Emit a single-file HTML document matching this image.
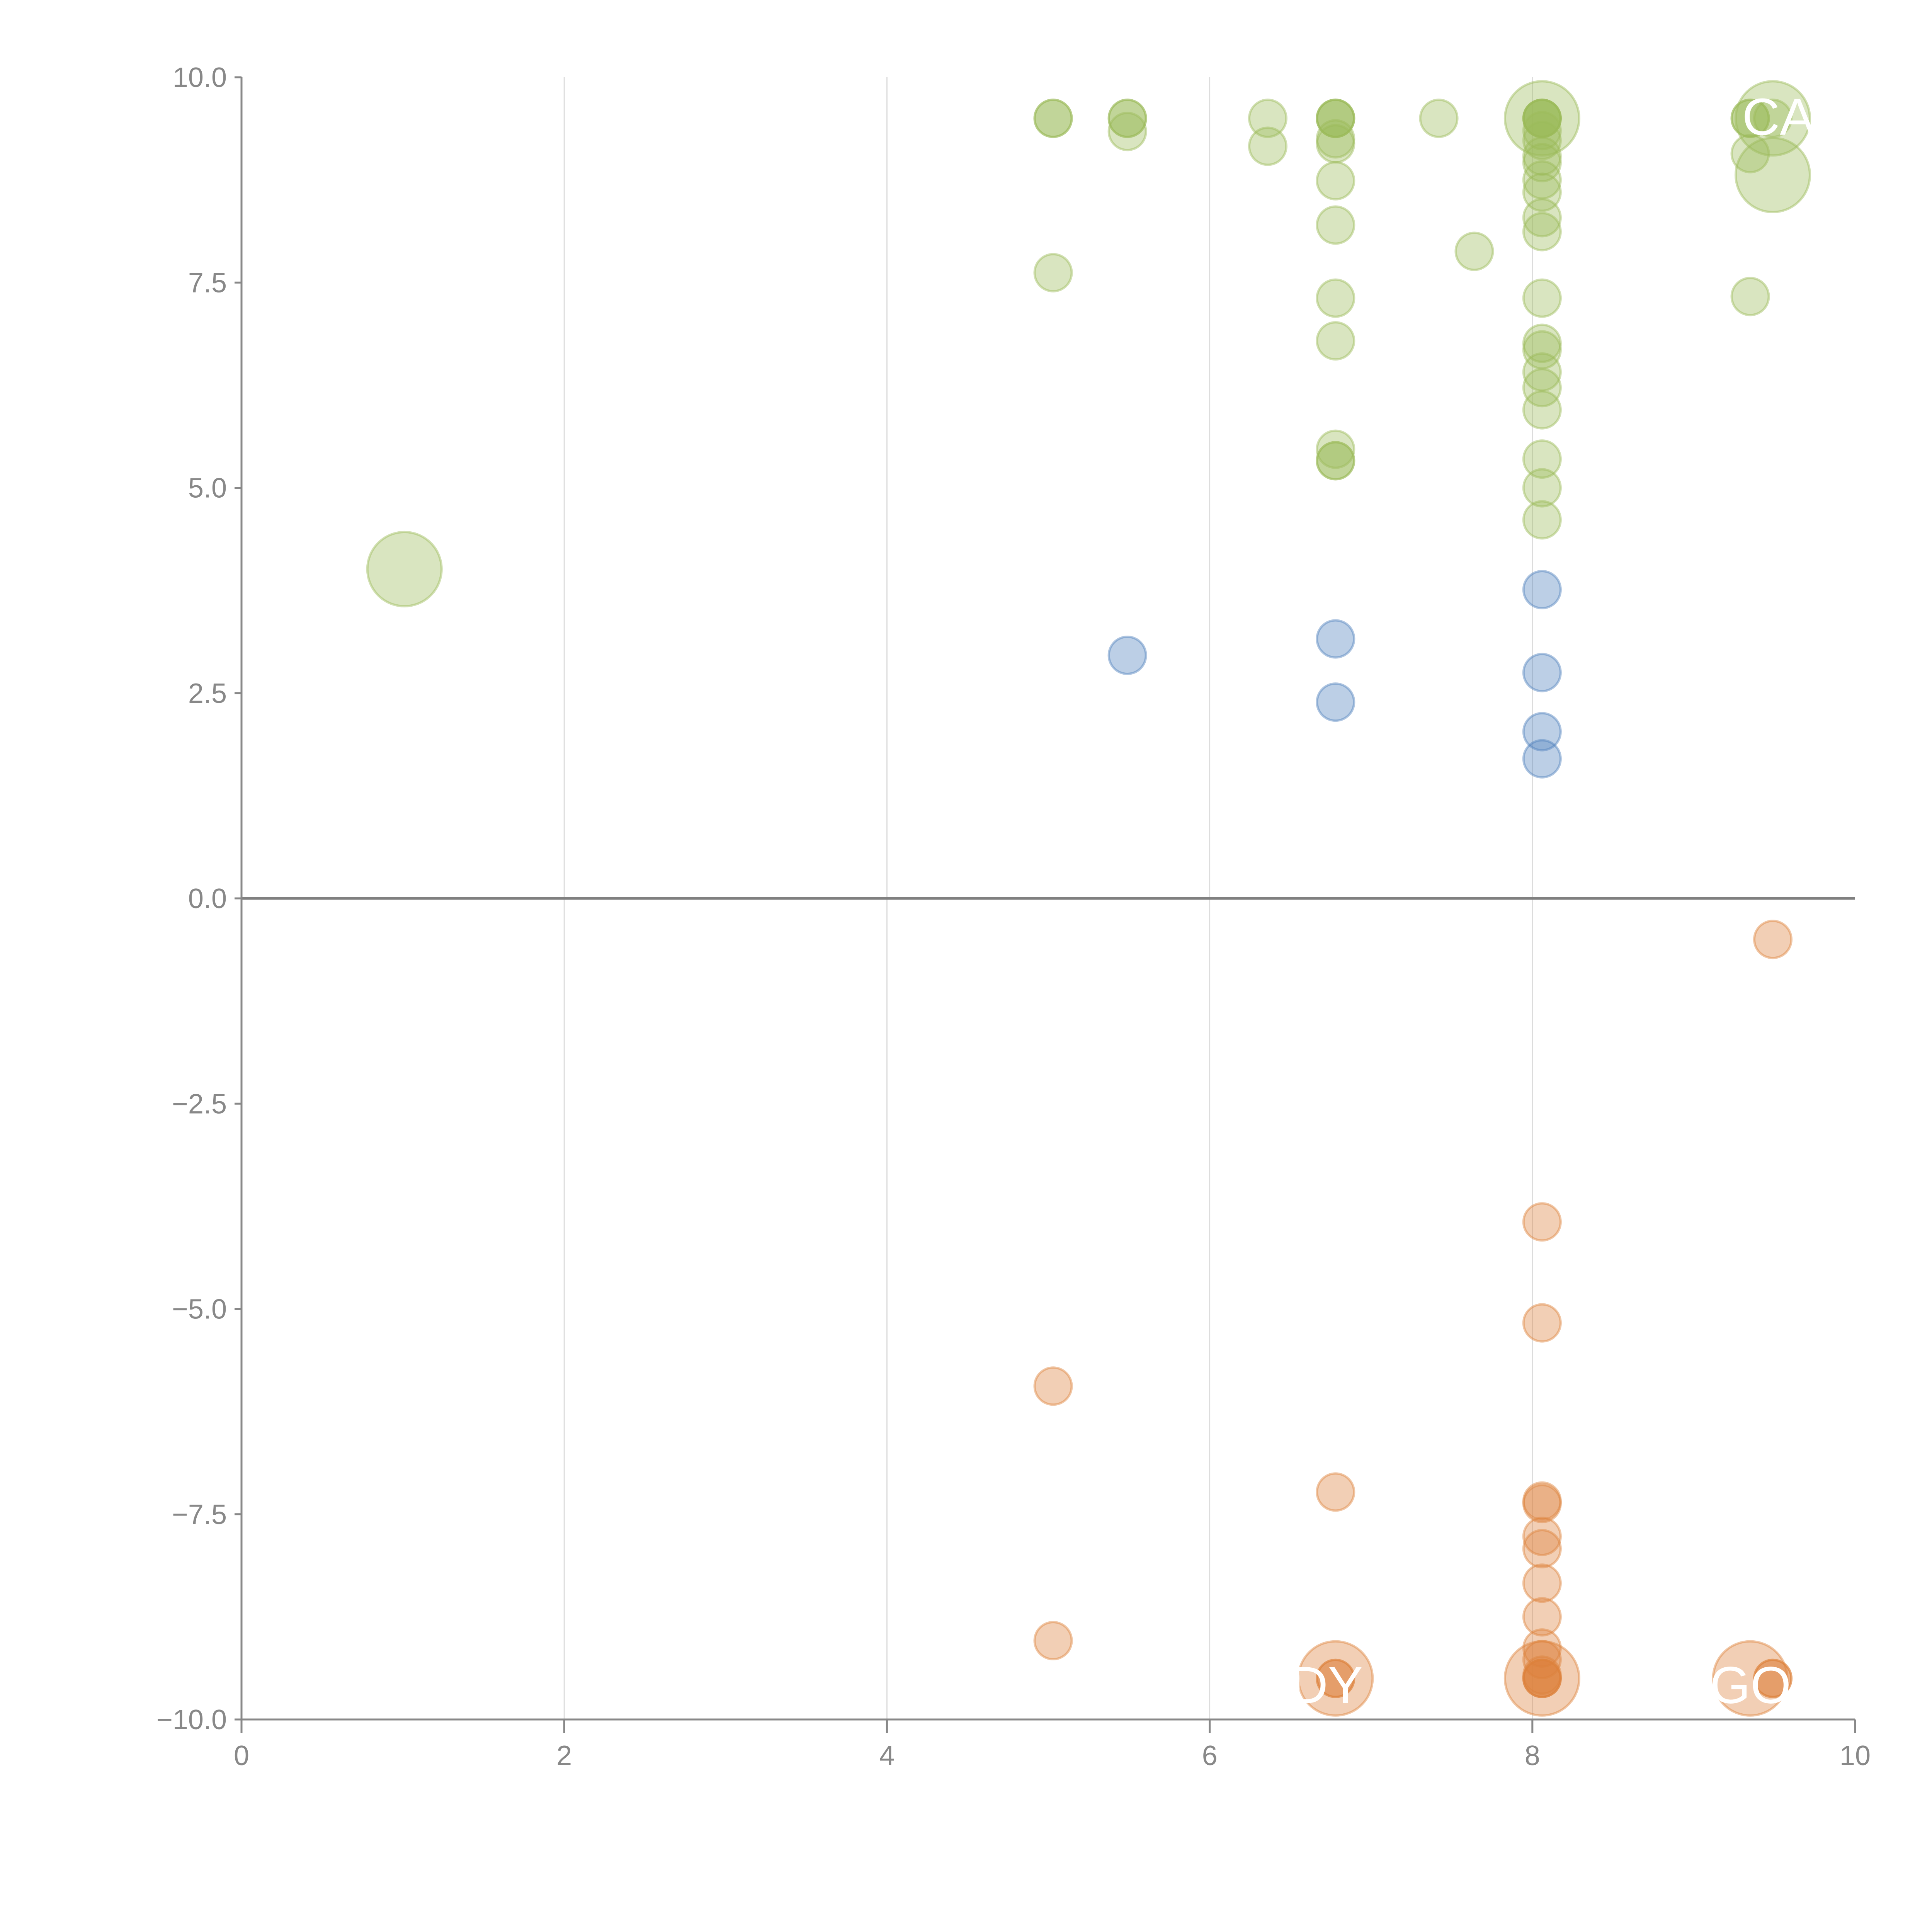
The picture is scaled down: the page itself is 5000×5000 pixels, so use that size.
<!DOCTYPE html>
<html><head><meta charset="utf-8"><style>html,body{margin:0;padding:0;background:#fff}svg{display:block}</style></head>
<body>
<svg id="chart" width="5000" height="5000" viewBox="0 0 5000 5000" xmlns="http://www.w3.org/2000/svg" font-family="'Liberation Sans', sans-serif">
<defs><clipPath id="plotclip"><rect x="625" y="200" width="4176" height="4250"/></clipPath></defs>
<g id="grid"></g>
<g id="axes"></g>
<g id="marks" clip-path="url(#plotclip)"></g>
<g id="labels" clip-path="url(#plotclip)"></g>
</svg>
<script>
const xTicks=[0,2,4,6,8,10];
const yTicks=[10,7.5,5,2.5,0,-2.5,-5,-7.5,-10];
const yTickLabels=["10.0","7.5","5.0","2.5","0.0","\u22122.5","\u22125.0","\u22127.5","\u221210.0"];
const greenX=[5.03,5.03,5.03,5.49,5.49,5.49,6.36,6.36,6.78,6.78,6.78,6.78,6.78,6.78,6.78,6.78,6.78,6.78,6.78,6.78,7.42,7.64,8.06,8.06,8.06,8.06,8.06,8.06,8.06,8.06,8.06,8.06,8.06,8.06,8.06,8.06,8.06,8.06,8.06,8.06,8.06,8.06,8.06,8.06,9.35,9.35,9.35,9.35,9.49,1.01,9.49,9.49];
const greenY=[9.5,9.5,7.62,9.5,9.5,9.34,9.5,9.16,9.5,9.5,9.5,9.25,9.19,8.74,8.2,7.31,6.79,5.47,5.33,5.33,9.5,7.88,9.5,9.5,9.5,9.35,9.23,9.04,8.96,8.75,8.6,8.29,8.12,7.31,6.76,6.68,6.41,6.22,5.95,5.35,5.0,4.61,9.5,9.5,9.5,9.5,9.07,7.33,9.5,4.01,8.81,9.5];
const greenS=[1,1,1,1,1,1,1,1,1,1,1,1,1,1,1,1,1,1,1,1,1,1,1,1,1,1,1,1,1,1,1,1,1,1,1,1,1,1,1,1,1,1,1,2,1,1,1,1,1,2,2,2];
const blueX=[5.49,6.78,6.78,8.06,8.06,8.06,8.06];
const blueY=[2.96,3.16,2.39,3.76,2.75,2.03,1.70];
const blueS=[1,1,1,1,1,1,1];
const orangeX=[9.49,8.06,8.06,8.06,8.06,8.06,8.06,8.06,8.06,8.06,8.06,8.06,8.06,8.06,8.06,8.06,5.03,5.03,6.78,6.78,6.78,6.78,9.35,9.49,9.49];
const orangeY=[-0.5,-3.94,-5.17,-7.34,-7.37,-7.77,-7.92,-8.34,-8.75,-9.13,-9.27,-9.46,-9.5,-9.5,-9.5,-9.5,-5.94,-9.04,-7.23,-9.5,-9.5,-9.5,-9.5,-9.5,-9.5];
const orangeS=[1,1,1,1,1,1,1,1,1,1,1,1,1,1,1,2,1,1,1,1,1,2,2,1,1];
const labelText=["CA","DY","GO"];
const labelX=[9.3,6.5,9.1];
const labelY=[9.3,-9.8,-9.8];

const NS="http://www.w3.org/2000/svg";
const X0=625,X1=4801,Y0=4450,Y1=200;
const sx=v=>X0+(v-0)/(10-0)*(X1-X0);
const sy=v=>Y0-(v+10)/20*(Y0-Y1);
function mk(t,a,p){const e=document.createElementNS(NS,t);for(const k in a)e.setAttribute(k,a[k]);p.appendChild(e);return e;}
const grid=document.getElementById('grid'),axes=document.getElementById('axes'),marks=document.getElementById('marks'),labels=document.getElementById('labels');
xTicks.forEach(t=>{if(t>0&&t<10){const l=mk('line',{x1:sx(t),x2:sx(t),y1:Y1,y2:Y0,stroke:'#dcdcdc','stroke-width':3},grid);

}});
const zl=mk('line',{x1:X0,x2:X1,y1:sy(0),y2:sy(0),stroke:'#808080','stroke-width':7},axes);


const ya=mk('line',{x1:X0,x2:X0,y1:Y1,y2:Y0+18,stroke:'#888','stroke-width':5},axes);


const xa=mk('line',{x1:X0,x2:X1,y1:Y0,y2:Y0,stroke:'#888','stroke-width':5},axes);


yTicks.forEach((t,i)=>{mk('line',{x1:X0-18,x2:X0,y1:sy(t),y2:sy(t),stroke:'#888','stroke-width':5},axes);
const tx=mk('text',{x:X0-38,y:sy(t)+25,'text-anchor':'end','font-size':72,fill:'#888'},axes);tx.textContent=yTickLabels[i];

});
xTicks.forEach(t=>{mk('line',{x1:sx(t),x2:sx(t),y1:Y0,y2:Y0+35,stroke:'#888','stroke-width':5},axes);
const tx=mk('text',{x:sx(t),y:Y0+118,'text-anchor':'middle','font-size':72,fill:'#888'},axes);tx.textContent=String(t);

});
function series(xs,ys,ss,col,name){xs.forEach((x,i)=>{const c=mk('circle',{cx:sx(x),cy:sy(ys[i]),r:ss[i]==2?96:48,fill:col,'fill-opacity':0.38,stroke:col,'stroke-opacity':0.45,'stroke-width':6},marks);

});}
series(greenX,greenY,greenS,'rgb(155,187,89)','green-bubble');
series(blueX,blueY,blueS,'rgb(79,129,189)','blue-bubble');
series(orangeX,orangeY,orangeS,'rgb(222,130,60)','orange-bubble');
labelText.forEach((s,i)=>{const t=mk('text',{x:sx(labelX[i]),y:sy(labelY[i]),'font-size':135,fill:'#fff'},labels);t.textContent=s;

});
</script>
</body></html>
